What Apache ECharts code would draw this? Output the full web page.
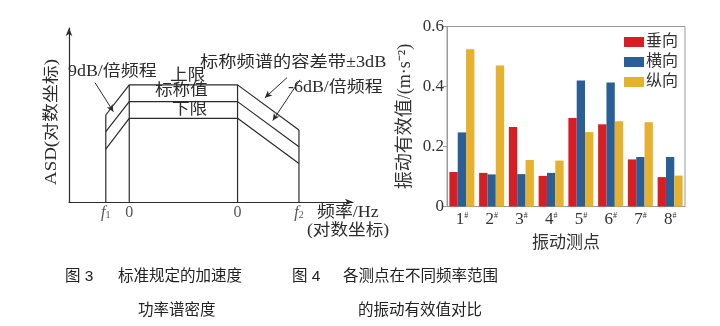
<!DOCTYPE html>
<html><head><meta charset="utf-8">
<script src="https://cdn.jsdelivr.net/npm/echarts@6/dist/echarts.min.js"></script>
<style>html,body{margin:0;padding:0;background:#fff}#c{width:720px;height:326px}</style>
</head><body><div id="c"></div>
<script>
// ---- Fig. 4: bar chart data ----
const categories = ['1#','2#','3#','4#','5#','6#','7#','8#'];
const seriesNames = ['垂向','横向','纵向'];
const vertical     = [0.115, 0.112, 0.265, 0.102, 0.295, 0.274, 0.157, 0.098];
const lateral      = [0.247, 0.107, 0.108, 0.112, 0.420, 0.413, 0.165, 0.165];
const longitudinal = [0.524, 0.470, 0.155, 0.153, 0.248, 0.284, 0.281, 0.103];
const yTickLabels  = ['0', '0.2', '0.4', '0.6'];

// ---- Fig. 3: schematic ASD spectrum (log-frequency units, dB-like units) ----
const freqPos    = [1.6, 2.62, 7.33, 10.0];
const freqTicks  = ['f1', '0', '0', 'f2'];
const upperLimit = [15.6, 21, 21, 12.9];
const nominal    = [12.6, 18, 18, 9.9];
const lowerLimit = [9.5, 15, 15, 6.9];

const serif = "'Liberation Serif','Noto Sans CJK SC',serif";
const sans = "'Liberation Sans','Noto Sans CJK SC',sans-serif";
const ink = '#2b2b2b';
const colors = ['#d81e25', '#2a5f96', '#e6b12e'];

const chart = echarts.init(document.getElementById('c'), null, {renderer: 'canvas'});

const lineStyle = {color: ink, width: 1.2};
const diagSeries = [upperLimit, nominal, lowerLimit].map(arr => ({
  type: 'line', xAxisIndex: 0, yAxisIndex: 0, symbol: 'none', silent: true,
  lineStyle: lineStyle, data: freqPos.map((x, i) => [x, arr[i]])
}));
freqPos.forEach((x, i) => {
  diagSeries.push({
    type: 'line', xAxisIndex: 0, yAxisIndex: 0, symbol: 'none', silent: true,
    lineStyle: lineStyle, data: [[x, 0], [x, upperLimit[i]]]
  });
});
diagSeries[1].markLine = {
  silent: true, symbol: ['none', 'arrow'], symbolSize: [5, 7],
  lineStyle: {color: ink, width: 1, type: 'solid'}, label: {show: false},
  data: [
    [{coord: [1.13, 21.4]}, {coord: [1.93, 16.2]}],
    [{coord: [9.48, 22.3]}, {coord: [8.52, 18.7]}],
    [{coord: [10.04, 21.9]}, {coord: [8.86, 14.6]}]
  ]
};
diagSeries.push({
  type: 'scatter', xAxisIndex: 0, yAxisIndex: 0, symbolSize: 1, silent: true,
  itemStyle: {color: 'rgba(0,0,0,0)'},
  data: freqPos.map((x, i) => ({value: [x, 0], name: freqTicks[i]})),
  label: {
    show: true, position: 'bottom', distance: 2,
    formatter: p => p.name.length > 1 ? '{i|' + p.name[0] + '}{sub|' + p.name.slice(1) + '}' : '{n|' + p.name + '}',
    rich: {
      i: {fontFamily: serif, fontStyle: 'italic', fontSize: 16, color: ink},
      sub: {fontFamily: serif, fontSize: 10, color: ink, verticalAlign: 'bottom', padding: [6, 0, 0, 0]},
      n: {fontFamily: serif, fontSize: 16, color: ink}
    }
  }
});

const barData = [vertical, lateral, longitudinal];
const barSeries = seriesNames.map((name, k) => ({
  name: name, type: 'bar', xAxisIndex: 1, yAxisIndex: 1,
  barGap: '0%', barCategoryGap: '16%',
  itemStyle: {color: colors[k]}, data: barData[k]
}));

function t(text, x, y, size, opts) {
  return Object.assign({
    type: 'text', x: x, y: y, silent: true,
    style: {text: text, font: size + 'px ' + serif, fill: ink, textAlign: 'left', textVerticalAlign: 'middle'}
  }, opts || {});
}
function cap(text, x, y) {
  return {type: 'text', x: x, y: y, silent: true,
    style: {text: text, font: '15.5px ' + sans, fill: '#222', textAlign: 'left', textVerticalAlign: 'middle'}};
}

chart.setOption({
  animation: false,
  backgroundColor: '#fff',
  grid: [
    {left: 69, top: 28, width: 284, height: 174},
    {left: 447, top: 26.5, width: 238, height: 180, show: true, borderColor: '#9a9a9a', borderWidth: 1}
  ],
  xAxis: [
    {gridIndex: 0, type: 'value', min: 0, max: 12.35,
     axisLine: {show: true, symbol: ['none', 'arrow'], symbolSize: [5, 8], lineStyle: {color: ink, width: 1.2}},
     axisTick: {show: false}, axisLabel: {show: false}, splitLine: {show: false}},
    {gridIndex: 1, type: 'category', data: categories,
     axisLine: {show: true, lineStyle: {color: '#9a9a9a'}}, axisTick: {show: false},
     axisLabel: {margin: 5, color: '#333', interval: 0, hideOverlap: false,
       formatter: v => '{n|' + v.replace('#', '') + '}{s|#}',
       rich: {n: {fontFamily: serif, fontSize: 17, color: '#333'},
              s: {fontFamily: serif, fontSize: 8, color: '#333', verticalAlign: 'top', padding: [0, 0, 8, 0]}}},
     name: '振动测点', nameLocation: 'middle', nameGap: 29,
     nameTextStyle: {fontFamily: serif, fontSize: 17, color: '#333'}}
  ],
  yAxis: [
    {gridIndex: 0, type: 'value', min: 0, max: 31.2,
     axisLine: {show: true, symbol: ['none', 'arrow'], symbolSize: [5, 8], lineStyle: {color: ink, width: 1.2}},
     axisTick: {show: false}, axisLabel: {show: false}, splitLine: {show: false}},
    {gridIndex: 1, type: 'value', min: 0, max: 0.6, interval: 0.2,
     axisLine: {show: true, lineStyle: {color: '#9a9a9a'}},
     axisTick: {show: true, length: 4, lineStyle: {color: '#9a9a9a'}},
     axisLabel: {margin: 3, color: '#333', fontFamily: serif, fontSize: 17,
       formatter: (v) => yTickLabels[Math.round(v / 0.2)]},
     splitLine: {show: false},
     name: '振动有效值/(m·s⁻²)', nameLocation: 'middle', nameGap: 33,
     nameTextStyle: {fontFamily: serif, fontSize: 18, color: '#333'}}
  ],
  legend: {
    data: seriesNames, orient: 'vertical', right: 42, top: 34, padding: 0,
    itemWidth: 20, itemHeight: 10, itemGap: 4, icon: 'rect',
    textStyle: {fontFamily: serif, fontSize: 16, color: '#333', padding: [0, 0, 0, -3]}
  },
  series: diagSeries.concat(barSeries),
  graphic: [
    t('ASD(对数坐标)', 52, 122, 16, {rotation: Math.PI / 2, scaleX: 1.18, style: {text: 'ASD(对数坐标)', font: '16px ' + serif, fill: ink, textAlign: 'center', textVerticalAlign: 'middle'}}),
    t('9dB/倍频程', 68, 72, 16, {scaleX: 1.12}),
    t('上限', 170, 76, 16, {scaleX: 1.1}),
    t('标称值', 155, 91, 16, {scaleX: 1.1}),
    t('下限', 172, 110, 16, {scaleX: 1.1}),
    t('标称频谱的容差带±3dB', 200, 63, 16, {scaleX: 1.14}),
    t('-6dB/倍频程', 288, 88, 16, {scaleX: 1.12}),
    t('频率/Hz', 317, 213, 16, {scaleX: 1.12}),
    t('(对数坐标)', 307, 231, 16, {scaleX: 1.1}),
    cap('图 3', 65, 277),
    cap('标准规定的加速度', 118, 277),
    cap('功率谱密度', 138, 311),
    cap('图 4', 292, 277),
    cap('各测点在不同频率范围', 343, 277),
    cap('的振动有效值对比', 358, 311)
  ]
});
</script></body></html>
